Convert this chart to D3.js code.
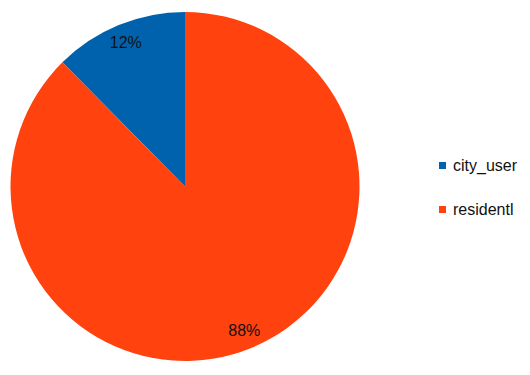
<!DOCTYPE html>
<html>
<head>
<meta charset="utf-8">
<script src="https://cdn.jsdelivr.net/npm/d3@7"></script>
<style>
  body { margin: 0; background: #fff; }
  text { font-family: "Liberation Sans", Arial, sans-serif; }
</style>
</head>
<body>
<svg id="chart" width="530" height="375"></svg>
<script>
  // data
  var categories = ["city_user", "residentl"];
  var values = [12.4, 87.6];
  var colors = ["#0062ac", "#ff420e"];

  var svg = d3.select("#chart");
  var cx = 185, cy = 186.5, radius = 174.5;

  // pie goes counter-clockwise starting at 12 o'clock
  var pie = d3.pie().sort(null).startAngle(0).endAngle(-2 * Math.PI);
  var arcs = pie(values);
  var arc = d3.arc().innerRadius(0).outerRadius(radius);
  var labelArc = d3.arc().innerRadius(156).outerRadius(156);

  var g = svg.append("g").attr("transform", "translate(" + cx + "," + cy + ")");

  g.selectAll("path.slice")
    .data(arcs)
    .enter().append("path")
    .attr("class", "slice")
    .attr("d", arc)
    .attr("fill", function (d, i) { return colors[i]; });

  var total = d3.sum(values);
  g.selectAll("text.lbl")
    .data(arcs)
    .enter().append("text")
    .attr("class", "lbl")
    .attr("transform", function (d) { return "translate(" + labelArc.centroid(d) + ")"; })
    .attr("text-anchor", "middle")
    .attr("dy", "0.35em")
    .attr("font-size", 16)
    .attr("fill", "#111")
    .text(function (d) { return Math.round(d.value / total * 100) + "%"; });

  // legend
  var legend = svg.append("g").attr("transform", "translate(439,158)");
  var item = legend.selectAll("g")
    .data(categories)
    .enter().append("g")
    .attr("transform", function (d, i) { return "translate(0," + (i * 44) + ")"; });

  item.append("rect")
    .attr("x", 0).attr("y", 4)
    .attr("width", 7).attr("height", 7)
    .attr("fill", function (d, i) { return colors[i]; });

  item.append("text")
    .attr("x", 14).attr("y", 13)
    .attr("font-size", 16)
    .attr("fill", "#111")
    .text(function (d) { return d; });
</script>
</body>
</html>
